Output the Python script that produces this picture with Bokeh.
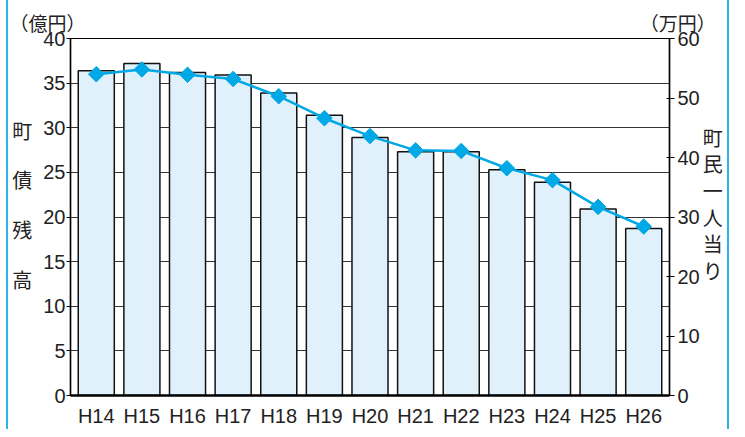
import numpy as np
from bokeh.plotting import figure
from bokeh.models import ColumnDataSource, FactorRange, Range1d, LinearAxis, Title, FixedTicker
from bokeh.embed import file_html
from bokeh.resources import INLINE

# ---- data ----
years = ["H14", "H15", "H16", "H17", "H18", "H19", "H20", "H21", "H22", "H23", "H24", "H25", "H26"]
debt = [36.4, 37.2, 36.2, 35.9, 33.9, 31.4, 28.9, 27.3, 27.3, 25.3, 23.9, 20.9, 18.7]          # 億円 (left)
per_capita = [54.0, 54.8, 53.9, 53.2, 50.3, 46.6, 43.6, 41.2, 41.1, 38.2, 36.2, 31.7, 28.4]   # 万円 (right)
left_ticks = [0, 5, 10, 15, 20, 25, 30, 35, 40]
right_ticks = [0, 10, 20, 30, 40, 50, 60]
left_title = ["町", "債", "残", "高"]
right_title = ["町", "民", "一", "人", "当", "り"]
left_unit = "（億円）"
right_unit = "（万円）"

JP = "Noto Sans CJK JP"
NUM = "Liberation Sans Narrow, Liberation Sans"
BLUE = "#00A8E6"
BLANK = "\u3000"

MARGIN = 6
W, H = 723, 429
FL, FR, FT, FB = 68, 667, 38, 405   # frame edges (canvas-offset corrected)

src = ColumnDataSource(dict(x=years, debt=debt, pc=per_capita))

p = figure(width=W, height=H, x_range=FactorRange(*years, range_padding=0.01),
           y_range=Range1d(0, 40), output_backend="svg", toolbar_location=None,
           min_border_left=FL - MARGIN, min_border_right=W + MARGIN - FR,
           min_border_top=FT, min_border_bottom=H - FB)
p.extra_y_ranges = {"r": Range1d(0, 60)}
p.background_fill_color = "white"
p.outline_line_color = "black"
p.outline_line_width = 1.2

p.styles = {"margin-left": f"{MARGIN}px",
            "border-left": "2px solid #2DB4EA", "border-right": "2px solid #2DB4EA",
            "box-sizing": "border-box"}

# grid
p.xgrid.grid_line_color = None
p.ygrid.ticker = FixedTicker(ticks=left_ticks)
p.ygrid.grid_line_color = "#333333"
p.ygrid.grid_line_width = 1.2


def style_num(ax):
    ax.major_label_text_font = NUM
    ax.major_label_text_font_size = "20px"
    ax.major_label_text_color = "#222222"


def stacked(chars, gap, tail):
    lines = []
    for i, ch in enumerate(chars):
        lines.append(ch)
        if i < len(chars) - 1:
            lines.extend([BLANK] * (gap - 1))
    lines.extend([BLANK] * tail)
    return "\n".join(lines)


def style_title(ax, text, line_h, standoff):
    ax.axis_label = text
    ax.axis_label_orientation = "horizontal"
    ax.axis_label_text_font = JP
    ax.axis_label_text_font_size = "20px"
    ax.axis_label_text_font_style = "normal"
    ax.axis_label_text_color = "#222222"
    ax.axis_label_text_line_height = line_h
    ax.axis_label_standoff = standoff


# left axis
ya = p.yaxis[0]
ya.ticker = FixedTicker(ticks=left_ticks)
ya.axis_line_color = "black"
ya.axis_line_width = 1.5
ya.major_tick_out = 4
ya.major_tick_in = 0
ya.minor_tick_line_color = None
ya.major_label_standoff = 1
style_num(ya)
style_title(ya, stacked(left_title, 4, 2), 0.428, 8)

# right axis
ra = LinearAxis(y_range_name="r", ticker=FixedTicker(ticks=right_ticks))
ra.axis_line_color = "black"
ra.axis_line_width = 1.5
ra.major_tick_out = 5
ra.major_tick_in = 3
ra.minor_tick_line_color = None
ra.major_label_standoff = 3
style_num(ra)
style_title(ra, stacked(right_title, 2, 2), 0.459, 0)
p.add_layout(ra, "right")

# bottom axis
xa = p.xaxis[0]
xa.axis_line_color = "black"
xa.axis_line_width = 2.5
xa.major_tick_line_color = None
xa.major_label_standoff = 3
style_num(xa)

# bars
p.vbar(x="x", top="debt", width=0.79, source=src, fill_color="#E0F1FB",
       line_color="#111111", line_width=1.5)

# line with diamonds
p.line(x="x", y="pc", source=src, y_range_name="r", line_color=BLUE, line_width=2.5)
p.scatter(x="x", y="pc", source=src, y_range_name="r", marker="square", angle=np.pi / 4,
          size=11, fill_color=BLUE, line_color=BLUE)

# unit labels above the two axes (one title line, spaced with ideographic spaces)
units = Title(text=left_unit + BLANK * 29 + "\u2002\u2006" + right_unit, align="left",
              offset=-(FL - MARGIN - 1), standoff=5)
units.text_font = JP
units.text_font_size = "19px"
units.text_font_style = "normal"
units.text_color = "#222222"
p.add_layout(units, "above")

open("out.html", "w").write(file_html(p, INLINE))
